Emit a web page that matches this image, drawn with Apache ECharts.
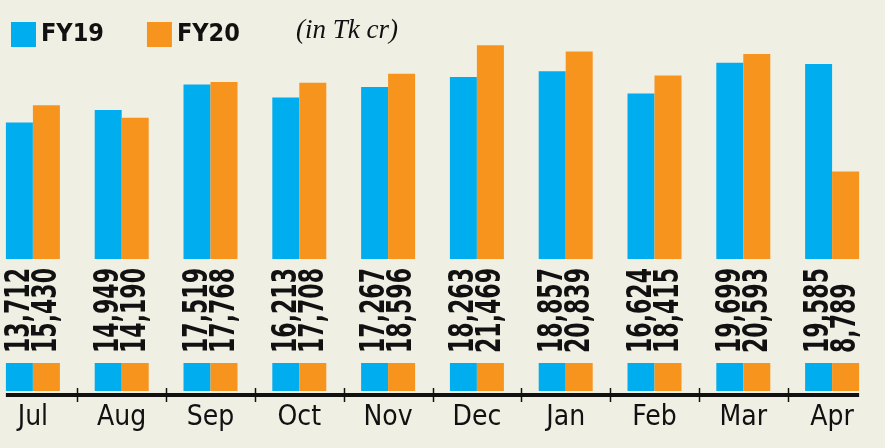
<!DOCTYPE html>
<html>
<head>
<meta charset="utf-8">
<script src="https://cdn.jsdelivr.net/npm/echarts@6/dist/echarts.min.js"></script>
<style>
html,body{margin:0;padding:0;background:#f0efe4;}
#chart{width:885px;height:448px;}
</style>
</head>
<body>
<div id="chart"></div>
<script>
// monthly values, Tk crore
const months=["Jul","Aug","Sep","Oct","Nov","Dec","Jan","Feb","Mar","Apr"];
const fy19=[13712,14949,17519,16213,17267,18263,18857,16624,19699,19585];
const fy20=[15430,14190,17768,17708,18596,21469,20839,18415,20593,8789];
const seriesNames=["FY19","FY20"];
const unitNote="(in Tk cr)";

const BLUE="#00aeef";
const ORANGE="#f7941d";
const BG="#f0efe4";
const INK="#111111";
const NARROW="'Liberation Sans Narrow','DejaVu Sans Condensed',sans-serif";
const BAR_W=27;

const chart=echarts.init(document.getElementById("chart"));

function bars(name,data,color){
    return {
        name,
        type:"bar",
        data,
        barWidth:BAR_W,
        barGap:0,
        itemStyle:{color}
    };
}

// small key blocks under the labels: values overflow the 0..1 axis and get clipped
function swatch(name,data,color){
    return {
        name,
        type:"bar",
        xAxisIndex:1,
        yAxisIndex:1,
        data,
        barWidth:BAR_W,
        barGap:0,
        clip:true,
        silent:true,
        itemStyle:{color}
    };
}

// rotated value labels under each pair, squeezed to look condensed
function valueText(x,y,v){
    return {
        type:"text",
        x,
        y,
        rotation:Math.PI/2,
        scaleX:0.72,
        style:{
            text:v.toLocaleString("en-US"),
            font:"bold 34px "+NARROW,
            fill:INK,
            align:"left",
            verticalAlign:"middle"
        }
    };
}

const labelRows=months.map((m,i)=>[i,fy19[i],fy20[i]]);

chart.setOption({
    backgroundColor:BG,
    animation:false,
    title:{
        text:unitNote,
        left:291,
        top:12,
        textStyle:{
            fontFamily:"'Liberation Serif',serif",
            fontStyle:"italic",
            fontWeight:"normal",
            fontSize:27,
            color:INK
        }
    },
    legend:{
        left:6,
        top:17,
        itemWidth:25,
        itemHeight:25,
        itemGap:43,
        icon:"rect",
        data:seriesNames,
        textStyle:{
            fontFamily:NARROW,
            fontWeight:"bold",
            fontSize:25,
            color:INK
        }
    },
    grid:[
        {left:-11.5,right:8.5,top:10,bottom:189,outerBoundsMode:"none"},
        {left:-11.5,right:8.5,top:363,bottom:57,outerBoundsMode:"none"}
    ],
    xAxis:[
        {
            gridIndex:0,
            type:"category",
            data:months,
            axisLine:{show:false},
            axisTick:{show:false},
            axisLabel:{show:false}
        },
        {
            gridIndex:1,
            type:"category",
            data:months,
            axisLine:{show:false},
            axisTick:{show:false},
            axisLabel:{
                margin:13,
                fontFamily:NARROW,
                fontSize:28,
                color:INK
            }
        }
    ],
    yAxis:[
        {gridIndex:0,type:"value",min:0,max:25000,show:false},
        {gridIndex:1,type:"value",min:0,max:1,show:false}
    ],
    series:[
        bars(seriesNames[0],fy19,BLUE),
        bars(seriesNames[1],fy20,ORANGE),
        swatch(seriesNames[0],fy19,BLUE),
        swatch(seriesNames[1],fy20,ORANGE),
        {
            type:"custom",
            data:labelRows,
            encode:{x:0,y:1},
            silent:true,
            renderItem(params,api){
                const base=api.coord([api.value(0),0]);
                const y=base[1]+94;
                return {
                    type:"group",
                    children:[
                        valueText(base[0]-BAR_W/2+1,y,api.value(1)),
                        valueText(base[0]+BAR_W/2+1,y,api.value(2))
                    ]
                };
            }
        }
    ]
});

// base line from first bar to last bar, ticks between months
const xs=months.map(m=>chart.convertToPixel({xAxisIndex:1},m));
const lineY=395;
const marks=[{
    type:"line",
    shape:{x1:xs[0]-BAR_W,y1:lineY,x2:xs[xs.length-1]+BAR_W,y2:lineY},
    style:{stroke:INK,lineWidth:4}
}];
for(let i=0;i<xs.length-1;i++){
    const x=Math.round((xs[i]+xs[i+1])/2)+0.5;
    marks.push({
        type:"line",
        shape:{x1:x,y1:388,x2:x,y2:402},
        style:{stroke:INK,lineWidth:1.5}
    });
}
chart.setOption({graphic:marks});
</script>
</body>
</html>
